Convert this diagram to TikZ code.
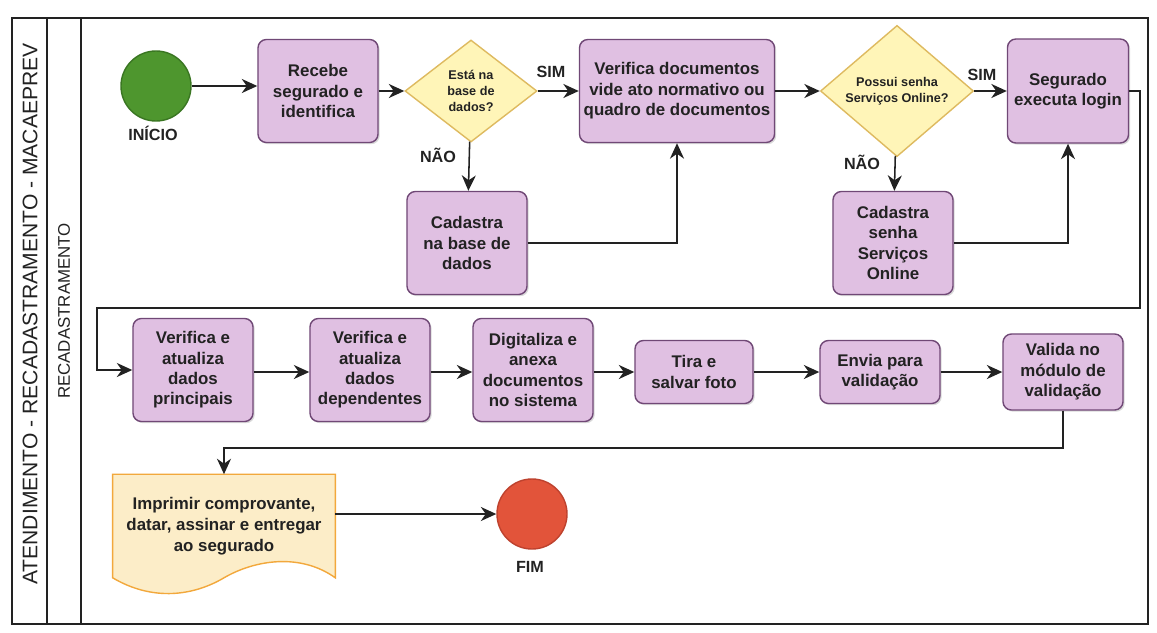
\documentclass[tikz,border=0pt]{standalone}
\usepackage{fontspec}
\setmainfont{Liberation Sans}
\usetikzlibrary{shapes.geometric,arrows.meta,shadows,backgrounds}

\definecolor{taskfill}{RGB}{224,192,226}
\definecolor{taskline}{RGB}{112,72,118}
\definecolor{askfill}{RGB}{255,245,184}
\definecolor{askline}{RGB}{222,186,96}
\definecolor{startfill}{RGB}{78,150,46}
\definecolor{startline}{RGB}{58,118,34}
\definecolor{endfill}{RGB}{226,84,58}
\definecolor{endline}{RGB}{190,66,46}
\definecolor{docfill}{RGB}{252,237,200}
\definecolor{docline}{RGB}{242,168,60}
\definecolor{ink}{RGB}{34,34,34}

\begin{document}
\begin{tikzpicture}
[x=0.025cm,y=-0.025cm,
 task/.style={rectangle,rounded corners=6pt,draw=taskline,fill=taskfill,line width=1pt,
   align=center,text=ink,font=\bfseries\fontsize{12}{14.5}\selectfont,inner sep=2pt,
   minimum width=3cm,minimum height=2.575cm,
   drop shadow={shadow xshift=1.2pt,shadow yshift=-1.2pt,opacity=0.3}},
 ask/.style={diamond,draw=askline,fill=askfill,line width=1pt,align=center,text=ink,
   font=\bfseries\fontsize{9}{11.4}\selectfont,inner sep=0pt},
 terminal/.style={circle,line width=1pt,minimum size=1.75cm,inner sep=0pt},
 tag/.style={font=\bfseries\fontsize{11.5}{13}\selectfont,text=ink},
 flow/.style={-{Stealth[length=11pt,width=10pt,inset=3.5pt]},line width=1.1pt,draw=ink},
 poolline/.style={line width=1.6pt,draw=ink}]
\useasboundingbox (0,0) rectangle (1157,632);

% raia
\draw[poolline] (12,18) rectangle (1148,624);
\draw[poolline] (47,18) -- (47,624);
\draw[line width=1.3pt,draw=ink] (81,18) -- (81,624);
\node (pool) [rotate=90,font=\fontsize{15}{18}\selectfont,text=ink] at (30,314) {ATENDIMENTO - RECADASTRAMENTO - MACAEPREV};
\node (lane) [rotate=90,font=\fontsize{12}{14}\selectfont,text=ink] at (64,311) {RECADASTRAMENTO};

% primeira linha
\node (inicio) [terminal,draw=startline,fill=startfill] at (156,86) {};
\node (tinicio) [tag] at (153,133) {INÍCIO};
\node (recebe) [task] at (318,91) {Recebe\\segurado e\\identifica};
\node (base) [ask,minimum width=3.3cm,minimum height=2.55cm] at (471,91) {Está na\\base de\\dados?};
\node (verifica) [task,minimum width=4.875cm] at (677,91) {Verifica documentos\\vide ato normativo ou\\quadro de documentos};
\node (online) [ask,minimum width=3.825cm,minimum height=2.95cm] at (897,91) {Possui senha\\Serviços Online?};
\node (login) [task,minimum width=3.025cm,minimum height=2.6cm] at (1068,91) {Segurado\\executa login};
\node (cadbase) [task] at (467,243) {Cadastra\\na base de\\dados};
\node (cadsenha) [task] at (893,243) {Cadastra\\senha\\Serviços\\Online};
\node (sim1) [tag] at (551,72) {SIM};
\node (sim2) [tag] at (982,75) {SIM};
\node (nao1) [tag] at (438,155) {NÃO};
\node (nao2) [tag] at (862,162) {NÃO};

% segunda linha
\node (principais) [task] at (193,370) {Verifica e\\atualiza\\dados\\principais};
\node (dependentes) [task] at (370,370) {Verifica e\\atualiza\\dados\\dependentes};
\node (digitaliza) [task] at (533,370) {Digitaliza e\\anexa\\documentos\\no sistema};
\node (foto) [task,minimum width=2.95cm,minimum height=1.575cm] at (694,372) {Tira e\\salvar foto};
\node (envia) [task,minimum height=1.575cm] at (880,372) {Envia para\\validação};
\node (valida) [task,minimum height=1.9cm] at (1063,372) {Valida no\\módulo de\\validação};

% terceira linha
\node (doc) [align=center,text=ink,font=\bfseries\fontsize{12}{14.8}\selectfont,
  minimum width=5.55cm,minimum height=2.575cm] at (224,526) {Imprimir comprovante,\\datar, assinar e entregar\\ao segurado};
\begin{scope}[on background layer]
\draw[draw=docline,fill=docfill,line width=1pt] (doc.south west) -- (doc.north west) -- (doc.north east) -- (doc.south east)
  .. controls +(-35,-25) and +(31,-18) .. (doc.south)
  .. controls +(-34,20) and +(37,22) .. (doc.south west) -- cycle;
\end{scope}
\node (fim) [terminal,draw=endline,fill=endfill] at (532,514) {};
\node (tfim) [tag] at (530,567) {FIM};

\coordinate (c1) at (1140,308);
\coordinate (c2) at (97,308);
\coordinate (c3) at (224,448);

\foreach \from/\to in {recebe/base,base/verifica,verifica/online,online/login,base/cadbase,online/cadsenha,foto/envia,envia/valida}
\draw[flow] (\from) -- (\to);
\foreach \from/\to in {principais/dependentes,dependentes/digitaliza,digitaliza/foto}
\draw[flow] (\from.east |- foto) -- (\from.east |- foto -| \to.west);
\draw[flow] (inicio.east) -- (inicio.east -| recebe.west);
\draw[flow] (cadbase.east) -| (verifica.south);
\draw[flow] (cadsenha.east) -| (login.south);
\draw[flow] (login.east) -| (c1) -- (c2) |- (principais.west);
\draw[flow] (valida.south) |- (c3) -- (doc.north);
\draw[flow] (doc.east |- fim) -- (fim);
\end{tikzpicture}
\end{document}
